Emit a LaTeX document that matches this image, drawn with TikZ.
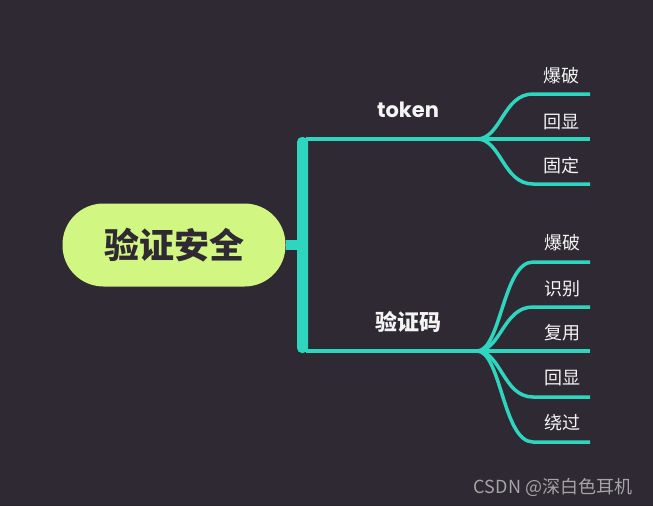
\documentclass[tikz,border=0pt]{standalone}
\usepackage{fontspec}
\setmainfont{Noto Sans CJK SC}
\newfontfamily\poppins{Poppins}
\definecolor{mybg}{RGB}{46,41,51}
\definecolor{myteal}{RGB}{46,214,192}
\definecolor{mylime}{RGB}{209,246,130}
\definecolor{mytext}{RGB}{244,244,244}
\definecolor{mymark}{RGB}{165,165,165}
\tikzset{branch/.style={draw=myteal,line width=3.5pt}}
\tikzset{leaf/.style={text=mytext,inner sep=0pt,font=\fontsize{18}{20}\selectfont}}
\tikzset{topic/.style={text=mytext,inner sep=0pt,font=\bfseries\fontsize{22}{24}\selectfont}}

\begin{document}
\begin{tikzpicture}[x=1pt,y=-1pt]

% page and background
\fill[mybg] (0,0) rectangle (653,506);
\useasboundingbox (0,0) rectangle (653,506);

% main topic
\node[fill=mylime,text=mybg,rounded corners=41pt,minimum width=223pt,minimum height=83pt,font=\bfseries\fontsize{35}{38}\selectfont] (root) at (174,245) {验证安全};

% spine
\coordinate (spine) at (298,245);
\coordinate (spinetop) at (306,139);
\coordinate (spinebot) at (306,351);
\fill[myteal,rounded corners=5pt] (297,137) rectangle (308,353);
\draw[myteal,line width=10pt] (root.east) -- (spine);

% token
\coordinate (tokjoint) at (477,139);
\draw[branch] (spinetop) -- (tokjoint);
\node[topic,font=\poppins\bfseries\fontsize{21}{24}\selectfont] (tok) at (408,110) {token};

\coordinate (tokA) at (590,94);
\coordinate (tokB) at (590,139);
\coordinate (tokC) at (590,184);
\draw[branch] (tokjoint) .. controls +(24,0) and +(-30,0) .. ([xshift=-57pt]tokA) -- (tokA);
\draw[branch] (tokjoint) -- (tokB);
\draw[branch] (tokjoint) .. controls +(24,0) and +(-30,0) .. ([xshift=-57pt]tokC) -- (tokC);
\node[leaf] (tokAtxt) at (561,76) {爆破};
\node[leaf] (tokBtxt) at (561,122) {回显};
\node[leaf] (tokCtxt) at (561,166) {固定};

% captcha
\coordinate (codejoint) at (477,351);
\draw[branch] (spinebot) -- (codejoint);
\node[topic] (code) at (408,322) {验证码};

\coordinate (codeA) at (590,262);
\coordinate (codeB) at (590,307);
\coordinate (codeC) at (590,351);
\coordinate (codeD) at (590,397);
\coordinate (codeE) at (590,442);
\draw[branch] (codejoint) .. controls +(24,0) and +(-30,0) .. ([xshift=-57pt]codeA) -- (codeA);
\draw[branch] (codejoint) .. controls +(24,0) and +(-30,0) .. ([xshift=-57pt]codeB) -- (codeB);
\draw[branch] (codejoint) -- (codeC);
\draw[branch] (codejoint) .. controls +(24,0) and +(-30,0) .. ([xshift=-57pt]codeD) -- (codeD);
\draw[branch] (codejoint) .. controls +(24,0) and +(-30,0) .. ([xshift=-57pt]codeE) -- (codeE);
\node[leaf] (codeAtxt) at (562,243) {爆破};
\node[leaf] (codeBtxt) at (562,289) {识别};
\node[leaf] (codeCtxt) at (562,333) {复用};
\node[leaf] (codeDtxt) at (562,378) {回显};
\node[leaf] (codeEtxt) at (562,423) {绕过};

% watermark
\node[text=mymark,inner sep=0pt,font=\fontsize{18}{20}\selectfont] (mark) at (553,487) {CSDN @深白色耳机};

\end{tikzpicture}
\end{document}
